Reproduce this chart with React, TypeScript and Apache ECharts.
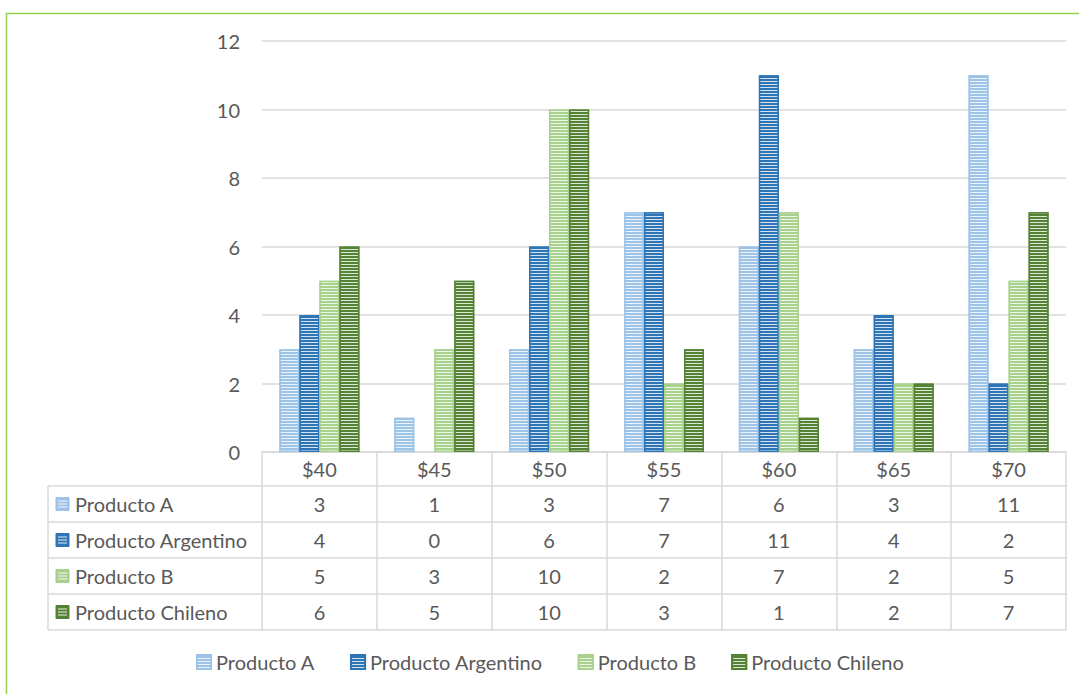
import React, { useEffect, useRef } from "react";
import * as echarts from "echarts";

const categories = ["$40", "$45", "$50", "$55", "$60", "$65", "$70"];
const seriesNames = ["Producto A", "Producto Argentino", "Producto B", "Producto Chileno"];
const productoA = [3, 1, 3, 7, 6, 3, 11];
const productoArgentino = [4, 0, 6, 7, 11, 4, 2];
const productoB = [5, 3, 10, 2, 7, 2, 5];
const productoChileno = [6, 5, 10, 3, 1, 2, 7];
const yTicks = { min: 0, max: 12, interval: 2 };

const seriesValues = [productoA, productoArgentino, productoB, productoChileno];
const colors = ["#9DC3E6", "#2E75B6", "#A9D18E", "#548235"];

const FONT = "Lato";
const TEXT = "#595959";
const LINE = "#D9D9D9";

const W = 1079;
const H = 694;
const GRID_L = 262;
const GRID_R = 1066;
const GRID_T = 41;
const AXIS_Y = 452;
const HEADER_H = 34;
const ROW_H = 36;
const TABLE_L = 48;

export default function App() {
  const ref = useRef<HTMLDivElement>(null);
  useEffect(() => {
    if (!ref.current) return;
    const chart = echarts.init(ref.current, null, { renderer: "svg", width: W, height: H });

    const rowCenter = (k: number) => AXIS_Y + HEADER_H + ROW_H * k + ROW_H / 2;
    const tableBottom = AXIS_Y + HEADER_H + ROW_H * seriesNames.length;

    const decalFor = () => ({
      symbol: "rect",
      symbolSize: 1,
      color: "rgba(255,255,255,0.8)",
      dashArrayX: [1, 0],
      dashArrayY: [1, 2],
      rotation: 0,
    });

    const extraAxes = seriesValues.map((vals, k) => ({
      type: "category",
      gridIndex: 0,
      position: "bottom",
      offset: rowCenter(k) - (AXIS_Y + HEADER_H / 2),
      data: categories,
      axisLine: { show: false },
      axisTick: { show: false },
      splitLine: { show: false },
      axisLabel: {
        interval: 0,
        margin: HEADER_H / 2,
        verticalAlign: "middle",
        color: TEXT,
        fontFamily: FONT,
        fontSize: 20,
        formatter: (_v: string, i: number) => String(vals[i]),
      },
    }));

    const graphics: any[] = [
      {
        type: "rect",
        silent: true,
        shape: { x: 6.5, y: 13.5, width: 1300, height: 1000 },
        style: { fill: "none", stroke: "#92D050", lineWidth: 1.5 },
      },
    ];
    for (let k = 0; k <= seriesNames.length; k++) {
      const y = AXIS_Y + HEADER_H + ROW_H * k;
      graphics.push({
        type: "line",
        silent: true,
        shape: { x1: TABLE_L, y1: y, x2: GRID_R, y2: y },
        style: { stroke: LINE, lineWidth: 1.5 },
      });
    }
    graphics.push({
      type: "line",
      silent: true,
      shape: { x1: TABLE_L, y1: AXIS_Y + HEADER_H, x2: TABLE_L, y2: tableBottom },
      style: { stroke: LINE, lineWidth: 1.5 },
    });
    seriesNames.forEach((name, k) => {
      const cy = rowCenter(k);
      const ix = 56;
      const s = 13;
      const top = cy - s / 2;
      graphics.push({
        type: "rect",
        silent: true,
        shape: { x: ix, y: top, width: s, height: s },
        style: { fill: colors[k], stroke: colors[k], lineWidth: 1 },
      });
      [3, 6, 9].forEach((dy) => {
        graphics.push({
          type: "line",
          silent: true,
          shape: { x1: ix + 2, y1: top + dy + 0.5, x2: ix + s - 2, y2: top + dy + 0.5 },
          style: { stroke: "rgba(255,255,255,0.85)", lineWidth: 1 },
        });
      });
      graphics.push({
        type: "text",
        silent: true,
        x: 75,
        y: cy,
        style: {
          text: name,
          fill: TEXT,
          font: `20px ${FONT}`,
          verticalAlign: "middle",
          align: "left",
        },
      });
    });

    chart.setOption({
      animation: false,
      backgroundColor: "#ffffff",
      grid: {
        left: GRID_L,
        right: W - GRID_R,
        top: GRID_T,
        bottom: H - AXIS_Y,
        containLabel: false,
      },
      legend: {
        data: seriesNames,
        left: 196,
        top: 652,
        padding: 0,
        itemWidth: 14,
        itemHeight: 14,
        itemGap: 35,
        icon: "rect",
        textStyle: { color: TEXT, fontFamily: FONT, fontSize: 20 },
      },
      xAxis: [
        {
          type: "category",
          data: categories,
          position: "bottom",
          axisLine: { show: true, lineStyle: { color: LINE, width: 1.5 } },
          axisTick: {
            show: true,
            interval: 0,
            alignWithLabel: false,
            length: tableBottom - AXIS_Y,
            lineStyle: { color: LINE, width: 1.5 },
          },
          axisLabel: {
            interval: 0,
            margin: HEADER_H / 2,
            verticalAlign: "middle",
            color: TEXT,
            fontFamily: FONT,
            fontSize: 20,
          },
        },
        ...extraAxes,
      ],
      yAxis: {
        type: "value",
        min: yTicks.min,
        max: yTicks.max,
        interval: yTicks.interval,
        axisLine: { show: false },
        axisTick: { show: false },
        splitLine: { lineStyle: { color: LINE, width: 1.5 } },
        axisLabel: { color: TEXT, fontFamily: FONT, fontSize: 20, margin: 22 },
      },
      series: seriesNames.map((name, k) => ({
        name,
        type: "bar",
        xAxisIndex: 0,
        barWidth: 20,
        barGap: "0%",
        data: seriesValues[k].map((v) =>
          v === 0 ? { value: v, itemStyle: { borderWidth: 0 } } : v
        ),
        itemStyle: {
          color: colors[k],
          borderColor: colors[k],
          borderWidth: 1.5,
          decal: decalFor(),
        },
      })),
      graphic: graphics,
    });

    return () => chart.dispose();
  }, []);

  return (
    <div
      ref={ref}
      style={{ position: "fixed", left: 0, top: 0, width: W, height: H, background: "#fff" }}
    />
  );
}
